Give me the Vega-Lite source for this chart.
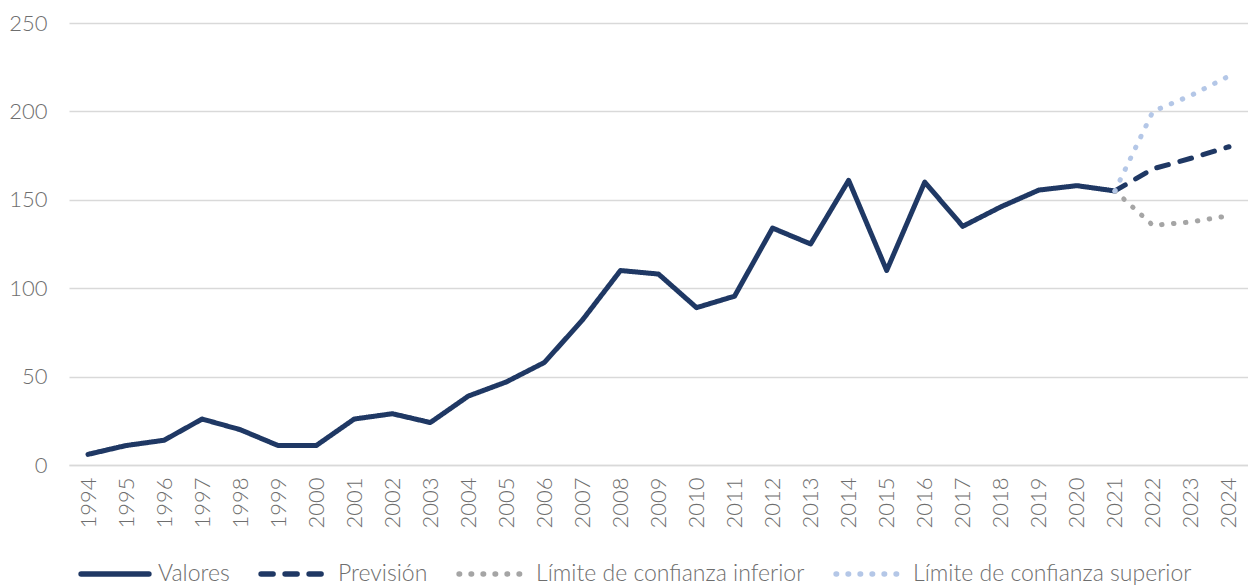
{
  "$schema": "https://vega.github.io/schema/vega-lite/v6.json",
  "width": 1179,
  "height": 442,
  "autosize": {"type": "none"},
  "padding": {"left": 69, "top": 23, "right": 0, "bottom": 120},
  "background": "white",
  "config": {
    "view": {"stroke": null},
    "font": "Lato",
    "axis": {"labelFont": "Lato", "labelFontWeight": 300, "labelColor": "#6E6E6E", "labelFontSize": 22},
    "legend": {"labelFont": "Lato", "labelFontWeight": 300, "labelColor": "#6E6E6E", "labelFontSize": 23, "symbolStrokeWidth": 5, "labelLimit": 0}
  },
  "data": {
    "values": [
      {"year": "1994", "series": "Valores", "value": 6},
      {"year": "1995", "series": "Valores", "value": 11},
      {"year": "1996", "series": "Valores", "value": 14},
      {"year": "1997", "series": "Valores", "value": 26},
      {"year": "1998", "series": "Valores", "value": 20},
      {"year": "1999", "series": "Valores", "value": 11},
      {"year": "2000", "series": "Valores", "value": 11},
      {"year": "2001", "series": "Valores", "value": 26},
      {"year": "2002", "series": "Valores", "value": 29},
      {"year": "2003", "series": "Valores", "value": 24},
      {"year": "2004", "series": "Valores", "value": 39},
      {"year": "2005", "series": "Valores", "value": 47},
      {"year": "2006", "series": "Valores", "value": 58},
      {"year": "2007", "series": "Valores", "value": 82},
      {"year": "2008", "series": "Valores", "value": 110},
      {"year": "2009", "series": "Valores", "value": 108},
      {"year": "2010", "series": "Valores", "value": 89},
      {"year": "2011", "series": "Valores", "value": 95.5},
      {"year": "2012", "series": "Valores", "value": 134},
      {"year": "2013", "series": "Valores", "value": 125},
      {"year": "2014", "series": "Valores", "value": 161},
      {"year": "2015", "series": "Valores", "value": 110},
      {"year": "2016", "series": "Valores", "value": 160},
      {"year": "2017", "series": "Valores", "value": 135},
      {"year": "2018", "series": "Valores", "value": 146},
      {"year": "2019", "series": "Valores", "value": 155.5},
      {"year": "2020", "series": "Valores", "value": 158},
      {"year": "2021", "series": "Valores", "value": 155},
      {"year": "2021", "series": "Previsión", "value": 155},
      {"year": "2022", "series": "Previsión", "value": 167.5},
      {"year": "2023", "series": "Previsión", "value": 173.5},
      {"year": "2024", "series": "Previsión", "value": 180},
      {"year": "2021", "series": "Límite de confianza inferior", "value": 155},
      {"year": "2022", "series": "Límite de confianza inferior", "value": 135.5},
      {"year": "2023", "series": "Límite de confianza inferior", "value": 137.5},
      {"year": "2024", "series": "Límite de confianza inferior", "value": 141},
      {"year": "2021", "series": "Límite de confianza superior", "value": 155},
      {"year": "2022", "series": "Límite de confianza superior", "value": 200},
      {"year": "2023", "series": "Límite de confianza superior", "value": 209},
      {"year": "2024", "series": "Límite de confianza superior", "value": 220}
    ]
  },
  "mark": {"type": "line", "strokeWidth": 5, "strokeCap": "round", "strokeJoin": "round"},
  "encoding": {
    "x": {
      "field": "year", "type": "ordinal",
      "scale": {"type": "point", "padding": 0.5},
      "axis": {"title": null, "labelAngle": -90, "ticks": false, "domain": true, "domainColor": "#D9D9D9", "domainWidth": 1.5, "labelPadding": 12, "grid": false}
    },
    "y": {
      "field": "value", "type": "quantitative",
      "scale": {"domain": [0, 250], "nice": false},
      "axis": {"title": null, "values": [0, 50, 100, 150, 200, 250], "ticks": false, "domain": false, "gridColor": "#D9D9D9", "gridWidth": 1.5, "labelPadding": 22}
    },
    "color": {
      "field": "series", "type": "nominal",
      "scale": {
        "domain": ["Valores", "Previsión", "Límite de confianza inferior", "Límite de confianza superior"],
        "range": ["#1F3864", "#1F3864", "#A5A5A5", "#B4C7E7"]
      },
      "legend": {"title": null, "orient": "none", "legendX": 9, "legendY": 514, "direction": "horizontal", "symbolType": "stroke", "symbolSize": 4600, "symbolStrokeWidth": 5.5, "labelOffset": 6, "columnPadding": 20, "labelLimit": 0,
        "encode": {"symbols": {"update": {"strokeCap": {"value": "round"}}}}}
    },
    "strokeDash": {
      "field": "series", "type": "nominal",
      "scale": {
        "domain": ["Valores", "Previsión", "Límite de confianza inferior", "Límite de confianza superior"],
        "range": [[1, 0], [12, 12], [0.5, 11.5], [0.5, 11.5]]
      },
      "legend": {"title": null, "orient": "none", "legendX": 9, "legendY": 514, "direction": "horizontal", "symbolType": "stroke", "symbolSize": 4600, "symbolStrokeWidth": 5.5, "labelOffset": 6, "columnPadding": 20, "labelLimit": 0,
        "encode": {"symbols": {"update": {"strokeCap": {"value": "round"}}}}}
    }
  }
}
